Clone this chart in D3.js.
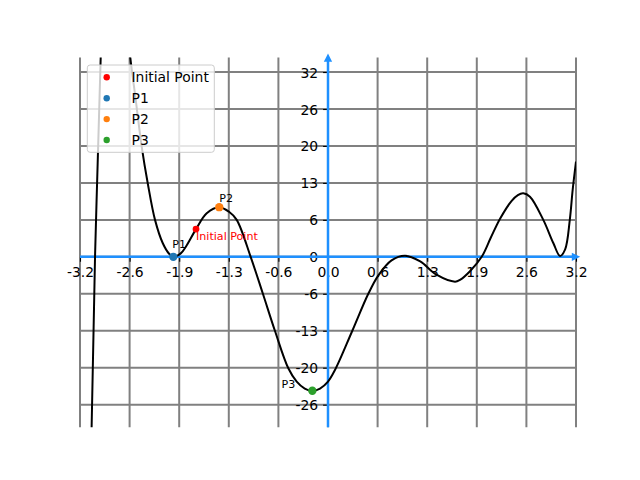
<!DOCTYPE html>
<html>
<head>
<meta charset="utf-8">
<script src="https://cdn.jsdelivr.net/npm/d3@7"></script>
<style>
  html, body { margin: 0; padding: 0; background: #fff; }
  svg { display: block; font-family: "DejaVu Sans", sans-serif; }
</style>
</head>
<body>
<svg id="chart" width="640" height="480"></svg>
<script>
// Curve samples (x, f(x)). The values beyond the
// plot window (|y| > ~30) are estimates; the line is clipped to the axes anyway.
const curveX = [-3.2, -3.1, -3.05, -3.006, -2.972, -2.933, -2.87, -2.79, -2.70, -2.62,
  -2.551, -2.481, -2.404, -2.326, -2.232, -2.133, -2.048, -1.996, -1.90, -1.832,
  -1.703, -1.565, -1.403, -1.277, -1.178, -0.998, -0.84, -0.685, -0.512,
  -0.404, -0.30, -0.202, -0.103, 0, 0.09, 0.314, 0.52, 0.65, 0.82, 0.994,
  1.19, 1.40, 1.639, 1.703, 1.832, 1.983, 2.10, 2.22, 2.37, 2.45, 2.52, 2.606,
  2.778, 2.907, 2.994, 3.06, 3.12, 3.157, 3.2];
const curveY = [-190, -70, -29.5, 0, 16.2, 34.5, 55, 63, 57, 44,
  34.5, 27.2, 19.1, 12.75, 6.4, 2.4, 0.5, 0, 0.6, 1.8,
  4.8, 7.55, 8.6, 7.8, 6.4, 0, -6.4, -12.8, -19.3,
  -21.6, -22.8, -23.2, -22.8, -21.6, -19.6, -12.8, -6.4, -3.2, -0.6, 0.2,
  -0.8, -3.1, -4.3, -4.0, -2.5, 0, 3.3, 6.6, 9.7, 10.7, 11.0, 10.4,
  6.4, 2.4, 0.15, 1.3, 6.4, 11.6, 16.5];

// highlighted points
const pointNames = ["Initial Point", "P1", "P2", "P3"];
const pointX = [-1.703, -1.996, -1.403, -0.202];
const pointY = [4.8, 0, 8.6, -23.2];
const pointColors = ["#ff0000", "#1f77b4", "#ff7f0e", "#2ca02c"];

// ticks: labels are the rounded values shown in the picture
const xTicks = [-3.2, -2.56, -1.92, -1.28, -0.64, 0, 0.64, 1.28, 1.92, 2.56, 3.2];
const xTickLabels = ["-3.2", "-2.6", "-1.9", "-1.3", "-0.6", "0.0", "0.6", "1.3", "1.9", "2.6", "3.2"];
const yTicks = [-25.6, -19.2, -12.8, -6.4, 0, 6.4, 12.8, 19.2, 25.6, 32];
const yTickLabels = ["-26", "-20", "-13", "-6", "0", "6", "13", "20", "26", "32"];

const xDomain = [-3.2, 3.2];
const yDomain = [-29.5, 34.5];

// matplotlib default axes box in a 640x480 figure
const L = 80, R = 576, T = 57.6, B = 427.2;
const BLUE = "#1e90ff";
const FS = 13.9; // 10pt

const svg = d3.select("#chart");
const x = d3.scaleLinear().domain(xDomain).range([L, R]);
const y = d3.scaleLinear().domain(yDomain).range([B, T]);
const x0 = x(0), y0 = y(0);

svg.append("defs").append("clipPath").attr("id", "plot")
  .append("rect").attr("x", L).attr("y", T).attr("width", R - L).attr("height", B - T);

// grid
const grid = svg.append("g").attr("stroke", "#808080").attr("stroke-width", 2);
grid.selectAll("line.v").data(xTicks).join("line").attr("class", "v")
  .attr("x1", (d) => x(d)).attr("x2", (d) => x(d)).attr("y1", T).attr("y2", B);
grid.selectAll("line.h").data(yTicks).join("line").attr("class", "h")
  .attr("x1", L).attr("x2", R).attr("y1", (d) => y(d)).attr("y2", (d) => y(d));

// axes through the origin, built with d3 axes and restyled
const xAxis = svg.append("g").attr("transform", `translate(0,${y0})`)
  .call(d3.axisBottom(x).tickValues(xTicks).tickFormat((d, i) => xTickLabels[i])
    .tickSizeInner(4.9).tickSizeOuter(0).tickPadding(4.9));
const yAxis = svg.append("g").attr("transform", `translate(${x0},0)`)
  .call(d3.axisLeft(y).tickValues(yTicks).tickFormat((d, i) => yTickLabels[i])
    .tickSizeInner(4.9).tickSizeOuter(0).tickPadding(4.9));
[xAxis, yAxis].forEach((a) => {
  a.select(".domain").remove();
  a.selectAll(".tick line").attr("stroke", "#000").attr("stroke-width", 1.1);
  a.selectAll(".tick text").attr("fill", "#000")
    .style("font-family", "DejaVu Sans").style("font-size", FS + "px");
});
xAxis.selectAll(".tick text").attr("dy", null).attr("y", 4.9 + 4.9 + 0.76 * FS);
yAxis.selectAll(".tick text").attr("dy", "0.36em");

// blue spines with arrow heads
const sp = svg.append("g");
sp.append("line").attr("x1", L).attr("x2", R).attr("y1", y0).attr("y2", y0)
  .attr("stroke", BLUE).attr("stroke-width", 2.5);
sp.append("line").attr("x1", x0).attr("x2", x0).attr("y1", T).attr("y2", B)
  .attr("stroke", BLUE).attr("stroke-width", 2.5);
const a = 4.17;
sp.append("path").attr("fill", BLUE)
  .attr("d", `M${R + a},${y0}L${R - a},${y0 - a}L${R - a},${y0 + a}Z`);
sp.append("path").attr("fill", BLUE)
  .attr("d", `M${x0},${T - a}L${x0 - a},${T + a}L${x0 + a},${T + a}Z`);

// the function
const pts = curveX.map((v, i) => [v, curveY[i]]);
svg.append("path").datum(pts)
  .attr("clip-path", "url(#plot)")
  .attr("fill", "none").attr("stroke", "#000").attr("stroke-width", 2)
  .attr("stroke-linejoin", "round")
  .attr("d", d3.line().x((d) => x(d[0])).y((d) => y(d[1])).curve(d3.curveCatmullRom.alpha(0.5)));

// points and their annotations
const radius = [3.4, 4.2, 4.2, 4.2];
const labelOff = [[0, 11, "start"], [-1, -9, "start"], [0, -5, "start"], [-17, -3, "end"]];
pointNames.forEach((name, i) => {
  const px = x(pointX[i]), py = y(pointY[i]);
  svg.append("circle").attr("cx", px).attr("cy", py).attr("r", radius[i]).attr("fill", pointColors[i]);
  svg.append("text").attr("x", px + labelOff[i][0]).attr("y", py + labelOff[i][1])
    .attr("text-anchor", labelOff[i][2])
    .attr("fill", i === 0 ? "#ff0000" : "#000")
    .style("font-size", "11.1px").text(name);
});

// legend, upper left
const lg = svg.append("g");
lg.append("rect").attr("x", 87.3).attr("y", 65).attr("width", 127).attr("height", 87.3)
  .attr("rx", 2.8).attr("fill", "#fff").attr("fill-opacity", 0.8)
  .attr("stroke", "#cccccc").attr("stroke-width", 1);
pointNames.forEach((name, i) => {
  const ly = 77.3 + i * 20.9;
  lg.append("circle").attr("cx", 106.7).attr("cy", ly).attr("r", 3.2).attr("fill", pointColors[i]);
  lg.append("text").attr("x", 131.5).attr("y", ly).attr("dy", "0.36em")
    .style("font-size", FS + "px").attr("fill", "#000").text(name);
});
</script>
</body>
</html>
